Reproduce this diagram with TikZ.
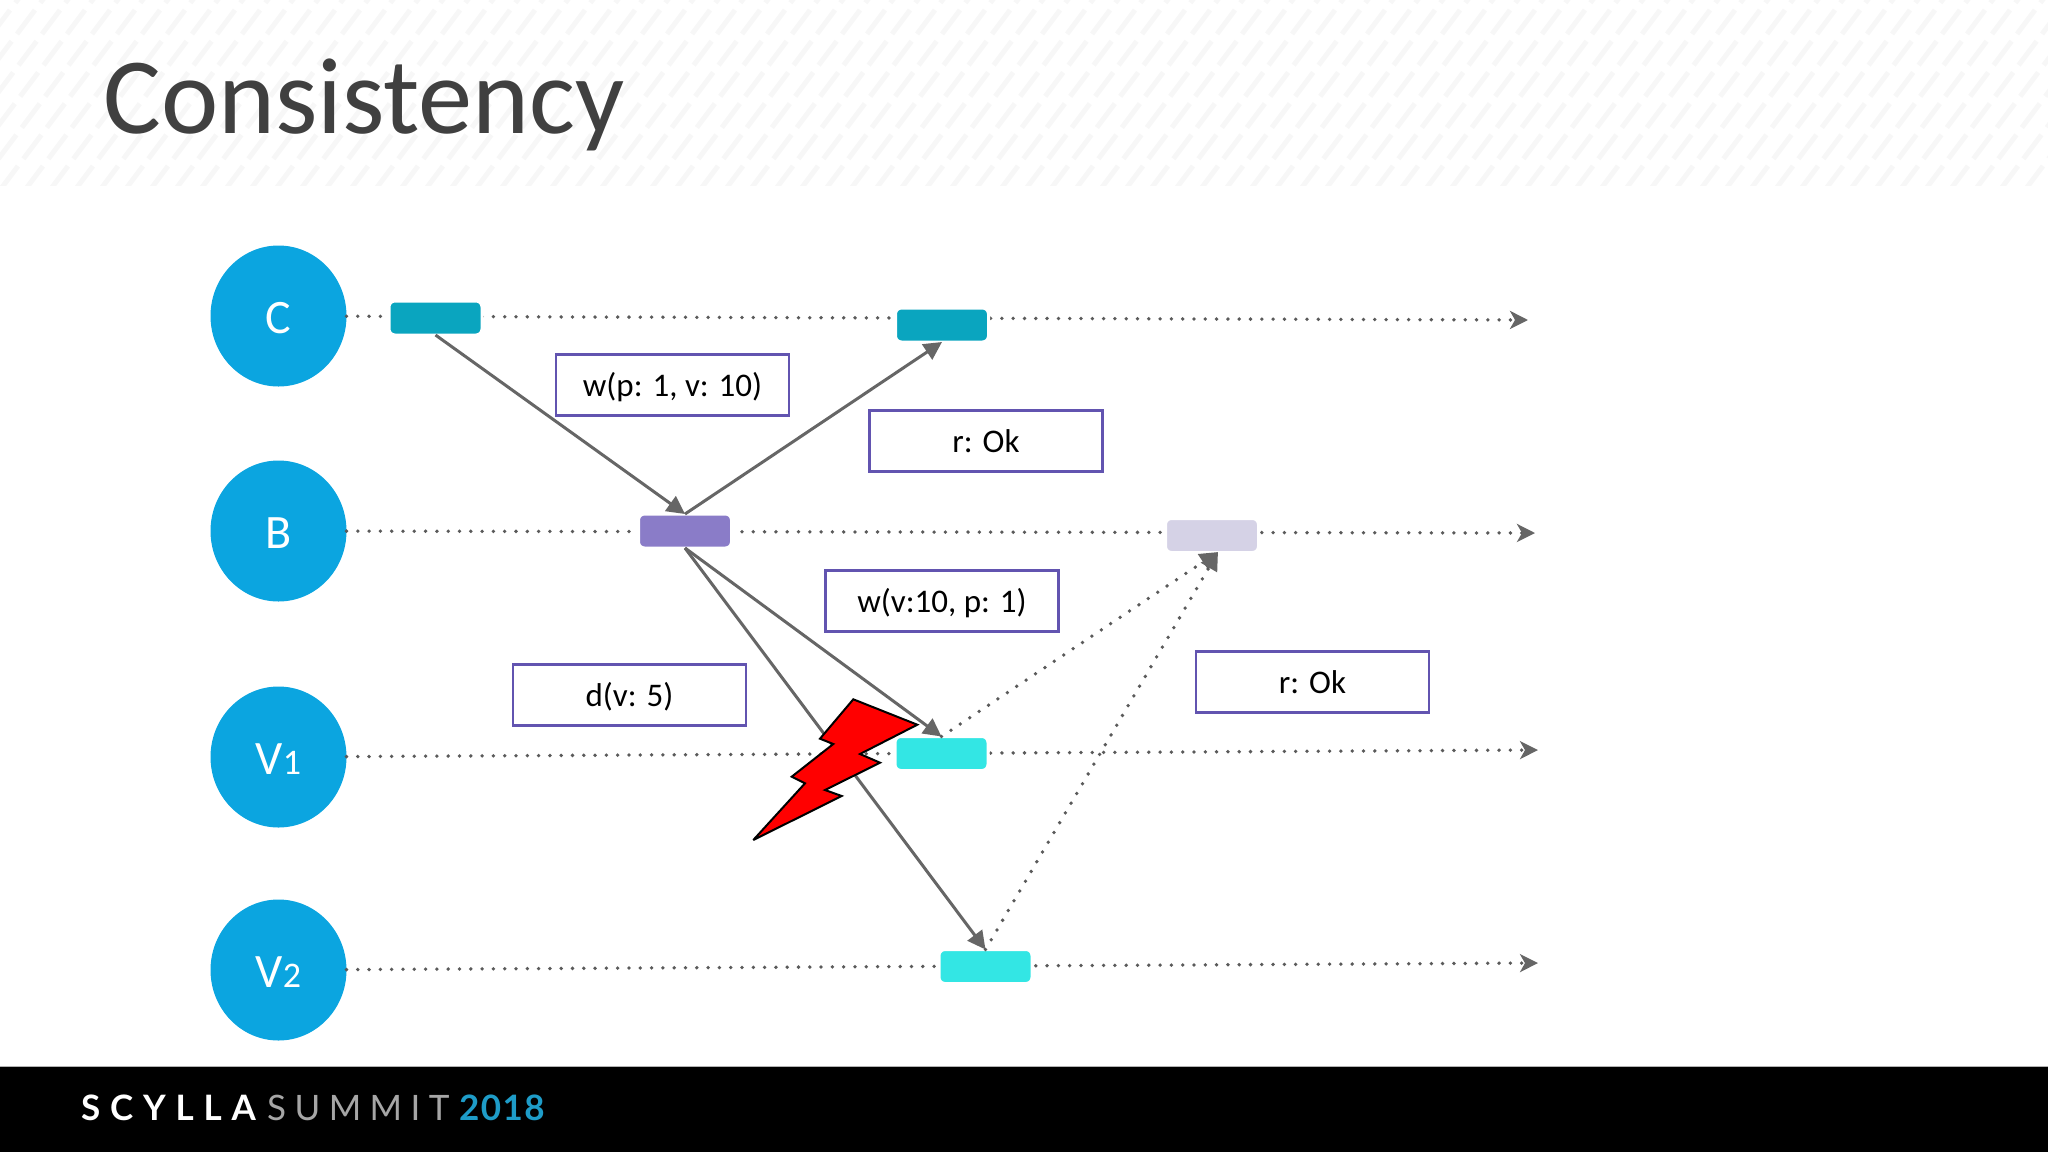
\documentclass[tikz,border=0pt]{standalone}
\usepackage{fontspec}
\setmainfont{Carlito}
\newfontfamily\logofont{Lato}[LetterSpace=28]
\newfontfamily\summitfont{Lato}[LetterSpace=24]
\newfontfamily\yearfont{Lato}[LetterSpace=4]
\usetikzlibrary{arrows.meta,shapes.geometric}
\definecolor{circleblue}{HTML}{0BA5E0}
\definecolor{clientbar}{HTML}{0AA5BF}
\definecolor{coordbar}{HTML}{8A7CC8}
\definecolor{lightbar}{HTML}{D5D2E6}
\definecolor{replicabar}{HTML}{33E6E4}
\definecolor{boxline}{HTML}{6254B0}
\definecolor{arrowgray}{HTML}{666666}
\definecolor{dotgray}{HTML}{5A5A5A}
\definecolor{titlegray}{HTML}{404040}
\definecolor{stripegray}{HTML}{F7F7F7}
\definecolor{yearblue}{HTML}{1E9CC8}
\newcommand{\lowdigit}[1]{{\fontsize{36}{40}\selectfont #1}}
\tikzset{
  actor/.style={ellipse,fill=circleblue,text=white,minimum width=136pt,minimum height=141pt,inner sep=0pt,outer sep=0pt,text height=34pt,text depth=0pt,font=\fontsize{48}{56}\selectfont},
  bar/.style={rounded corners=6pt,draw=white,line width=3pt,minimum width=93pt,minimum height=34pt,inner sep=0pt,outer sep=0pt},
  msgbox/.style={draw=boxline,line width=2.3pt,minimum width=233pt,minimum height=61pt,inner sep=0pt,outer sep=0pt,text height=23pt,text depth=0pt,font=\fontsize{33}{38}\selectfont},
  timeline/.style={dotgray,line width=3.8pt,line cap=round,dash pattern=on 0pt off 11.3pt,-{Stealth[length=18pt,width=18pt,inset=5pt,arrowgray]}},
  msg/.style={arrowgray,line width=3pt,-{Triangle[length=18pt,width=18pt]}},
  reply/.style={dotgray,line width=3.8pt,line cap=round,dash pattern=on 0pt off 11.3pt,-{Triangle[length=18pt,width=18pt,arrowgray]}},
}
\begin{document}
\begin{tikzpicture}[x=1pt,y=-1pt]
\useasboundingbox (0,0) rectangle (2048,1152);
% title band
\begin{scope}
\clip (0,0) rectangle (2048,185);
\foreach \x in {-150,-125,...,2050}
  \draw[stripegray,line width=5pt,dash pattern=on 30pt off 9pt] (\x,190) -- ++(150,-200);
\end{scope}
\node[anchor=base west,inner sep=0pt,text=titlegray,font=\fontsize{108.5}{120}\selectfont] (title) at (103,133) {Consistency};
% actors
\node[actor] (nodeC) at (278.5,316) {C};
\node[actor] (nodeB) at (278.5,531) {B};
\node[actor] (nodeVa) at (278.5,757) {V\lowdigit{1}};
\node[actor] (nodeVb) at (278.5,970) {V\lowdigit{2}};
\coordinate (endC) at (1528,320);
\coordinate (endB) at (1535,533);
\coordinate (endVa) at (1538,750);
\coordinate (endVb) at (1538,963);
\draw[timeline] (nodeC) -- (endC);
\draw[timeline] (nodeB) -- (endB);
\draw[timeline] (nodeVa) -- (endVa);
\draw[timeline] (nodeVb) -- (endVb);
% events
\node[bar,fill=clientbar] (sendC) at (435.5,318) {};
\node[bar,fill=clientbar] (ackC) at (942,325) {};
\node[bar,fill=coordbar] (recvB) at (685,531) {};
\node[bar,fill=lightbar] (ackB) at (1212,535.5) {};
\node[bar,fill=replicabar] (recvVa) at (941.5,753.5) {};
\node[bar,fill=replicabar] (recvVb) at (985.5,966.5) {};
% messages
\draw[msg] (sendC.south) -- (recvB.north);
\draw[msg] (recvB.north) -- (ackC.south);
\draw[msg] (recvB.south) -- (recvVa.north);
\draw[msg] (recvB.south) -- (recvVb.north);
\coordinate (tipB) at (1218,552);
\draw[reply] (recvVa.north) -- (tipB);
\draw[reply] (recvVb.north) -- (tipB);
\node[msgbox] (writeC) at (672.5,385) {w(p: 1, v: 10)};
\node[msgbox] (okC) at (986,441) {r: Ok};
\node[msgbox] (writeV) at (942,601) {w(v:10, p: 1)};
\node[msgbox] (dataV) at (629.5,695) {d(v: 5)};
\node[msgbox] (okB) at (1312.5,682) {r: Ok};
% bolt
\draw[fill=red,draw=black,line width=2pt,miter limit=3] (853.3,699.3) -- (917.3,724.7) -- (860,754) -- (880,762.7) -- (825,790) -- (841.7,796) -- (753.3,840) -- (805,783.3) -- (791.7,776.7) -- (833.3,744) -- (820,738.7) -- cycle;
% footer
\fill[black] (0,1066) rectangle (2048,1152);
\draw[gray!60,line width=1pt] (0,1066) -- (2048,1066);
\node[anchor=base west,inner sep=0pt,text=white,font=\fontsize{35}{40}\selectfont\logofont\bfseries] (logoA) at (81,1120) {SCYLLA};
\node[anchor=base west,inner sep=0pt,text=gray!70!white,font=\fontsize{35}{40}\selectfont\summitfont] (logoB) at (267,1120) {SUMMIT};
\node[anchor=base west,inner sep=0pt,text=yearblue,font=\fontsize{35}{40}\selectfont\yearfont\bfseries] (logoC) at (459,1120) {2018};
\end{tikzpicture}
\end{document}
